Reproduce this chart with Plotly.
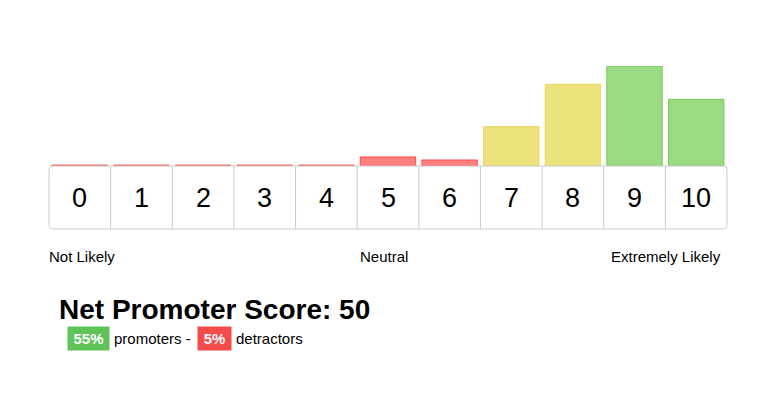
import plotly.graph_objects as go

# ---- data ----
scores = ["0", "1", "2", "3", "4", "5", "6", "7", "8", "9", "10"]
percent = [0.3, 0.3, 0.3, 0.3, 0.3, 3, 2, 13, 27, 33, 22]
group = ["detractor"] * 7 + ["passive"] * 2 + ["promoter"] * 2
scale_labels = ["Not Likely", "Neutral", "Extremely Likely"]
nps_score = 50
promoters_pct = 55
detractors_pct = 5

OFF = 8  # page body margin
W, H = 761, 384
L = 49 - OFF
R = W - (727.5 - OFF)
PW = W - L - R

fills = {"detractor": "rgba(255,0,0,0.5)", "passive": "rgba(230,216,80,0.75)", "promoter": "rgba(120,205,90,0.75)"}
lines = {"detractor": "rgba(255,50,50,0.8)", "passive": "rgba(232,215,90,0.9)", "promoter": "rgba(110,200,80,0.9)"}

def px(x):
    return (x - OFF - L) / PW

def py(y):
    return 1 - (y - OFF) / H

FONT = "Liberation Sans, Arial, Helvetica, sans-serif"

fig = go.Figure()
fig.add_trace(go.Bar(
    x=scores, y=percent,
    marker=dict(color=[fills[g] for g in group],
                line=dict(color=[lines[g] for g in group], width=1)),
    hoverinfo="skip",
))

box_top, box_bot = 166, 229
shapes = []
r_x = 4 / PW
r_y = 4 / H
x0, x1 = 0, 1
y0, y1 = py(box_bot), py(box_top)
path = (f"M {x0 + r_x},{y0} L {x1 - r_x},{y0} Q {x1},{y0} {x1},{y0 + r_y} "
        f"L {x1},{y1 - r_y} Q {x1},{y1} {x1 - r_x},{y1} L {x0 + r_x},{y1} "
        f"Q {x0},{y1} {x0},{y1 - r_y} L {x0},{y0 + r_y} Q {x0},{y0} {x0 + r_x},{y0} Z")
shapes.append(dict(type="path", xref="paper", yref="paper", path=path,
                   line=dict(color="#cccccc", width=1), fillcolor="rgba(0,0,0,0)", layer="above"))
for i in range(len(scores) - 1):
    shapes.append(dict(type="line", xref="x", yref="paper", x0=i + 0.5, x1=i + 0.5,
                       y0=py(box_bot), y1=py(box_top), line=dict(color="#cccccc", width=1)))

annotations = []
for s in scores:
    annotations.append(dict(x=s, xref="x", y=py(198), yref="paper", text=s, showarrow=False,
                            font=dict(size=27, color="#000", family=FONT), xanchor="center", yanchor="middle"))

lab_font = dict(size=15, color="#000", family=FONT)
annotations.append(dict(x=px(47), xref="paper", y=py(256), yref="paper", text=scale_labels[0],
                        showarrow=False, xanchor="left", yanchor="middle", font=lab_font))
annotations.append(dict(x=px(384), xref="paper", y=py(256), yref="paper", text=scale_labels[1],
                        showarrow=False, xanchor="center", yanchor="middle", font=lab_font))
annotations.append(dict(x=px(723), xref="paper", y=py(256), yref="paper", text=scale_labels[2],
                        showarrow=False, xanchor="right", yanchor="middle", font=lab_font))

annotations.append(dict(x=px(57), xref="paper", y=py(309), yref="paper",
                        text=f"<b>Net Promoter Score: {nps_score}</b>", showarrow=False,
                        xanchor="left", yanchor="middle", font=dict(size=28, color="#000", family=FONT)))

annotations.append(dict(x=px(67), xref="paper", y=py(338.5), yref="paper",
                        text=f"<b>{promoters_pct}%</b>", showarrow=False, xanchor="left", yanchor="middle",
                        width=35, height=17, align="center", valign="middle",
                        bgcolor="#5fc35a", borderpad=3, font=dict(size=15, color="#fff", family=FONT)))
annotations.append(dict(x=px(112), xref="paper", y=py(338.5), yref="paper",
                        text="promoters -", showarrow=False, xanchor="left", yanchor="middle",
                        font=dict(size=15, color="#000", family=FONT)))
annotations.append(dict(x=px(197), xref="paper", y=py(338.5), yref="paper",
                        text=f"<b>{detractors_pct}%</b>", showarrow=False, xanchor="left", yanchor="middle",
                        width=27, height=17, align="center", valign="middle",
                        bgcolor="#f34a4a", borderpad=3, font=dict(size=15, color="#fff", family=FONT)))
annotations.append(dict(x=px(234), xref="paper", y=py(338.5), yref="paper",
                        text="detractors", showarrow=False, xanchor="left", yanchor="middle",
                        font=dict(size=15, color="#000", family=FONT)))

fig.update_layout(
    width=W, height=H,
    margin=dict(l=L, r=R, t=0, b=0),
    paper_bgcolor="#ffffff", plot_bgcolor="#ffffff",
    showlegend=False,
    bargap=0.1,
    xaxis=dict(type="category", showticklabels=False, showgrid=False, zeroline=False,
               showline=False, ticks="", range=[-0.5, 10.5], fixedrange=True),
    yaxis=dict(range=[0, 33], domain=[py(166), py(66)], showticklabels=False, showgrid=False,
               zeroline=False, showline=False, ticks="", fixedrange=True),
    shapes=shapes,
    annotations=annotations,
    font=dict(family=FONT),
)

fig.write_html("out.html", config={"displayModeBar": False})
